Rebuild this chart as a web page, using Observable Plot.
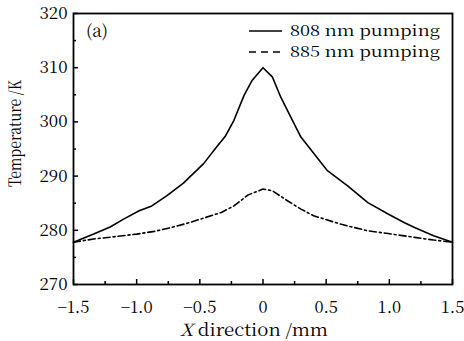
<!DOCTYPE html>
<html><head><meta charset="utf-8">
<script src="https://cdn.jsdelivr.net/npm/d3@7"></script>
<script src="https://cdn.jsdelivr.net/npm/@observablehq/plot@0.6"></script>
<style>body{margin:0;background:#fff} svg{display:block}</style>
</head><body><div id="chart"></div>
<script>
// 808 nm pumping (solid)
const x808 = [-1.5,-1.34,-1.21,-1.1,-0.98,-0.88,-0.76,-0.63,-0.47,-0.38,-0.3,-0.23,-0.15,-0.085,0,0.074,0.14,0.22,0.3,0.51,0.67,0.83,0.99,1.12,1.2,1.35,1.5];
const t808 = [277.8,279.3,280.6,282.1,283.6,284.5,286.4,288.7,292.3,295.0,297.3,300.3,304.9,307.7,310.0,308.3,304.6,300.9,297.2,291.0,288.2,285.1,283.0,281.4,280.5,279.0,277.8];
// 885 nm pumping (dashed)
const x885 = [-1.5,-1.34,-1.18,-1.0,-0.86,-0.73,-0.6,-0.49,-0.33,-0.23,-0.12,0,0.074,0.19,0.3,0.4,0.62,0.83,0.99,1.2,1.35,1.5];
const t885 = [277.8,278.4,278.8,279.3,279.8,280.5,281.3,282.1,283.3,284.5,286.5,287.6,287.3,285.5,283.9,282.7,281.1,279.9,279.4,278.7,278.2,277.8];
const seriesNames = ["808 nm pumping","885 nm pumping"];
const xTicks = [-1.5,-1,-0.5,0,0.5,1,1.5];
const xMinor = [-1.25,-0.75,-0.25,0.25,0.75,1.25];
const yTicks = [270,280,290,300,310,320];
const yMinor = [275,285,295,305,315];
const panelLabel = "(a)";
const yLabel = "Temperature /K";
const xLabelVar = "X", xLabelRest = " direction /mm";

const d808 = x808.map((x,i)=>({x, t:t808[i]}));
const d885 = x885.map((x,i)=>({x, t:t885[i]}));

const W=464,H=341,mL=73,mR=12,mT=13,mB=57;
const iw=W-mL-mR, ih=H-mT-mB;
const fmtX = d => d===0 ? "0" : d.toFixed(1).replace("-","\u2212");
const FONT = "'Noto Serif CJK SC', 'DejaVu Serif', serif";

const svg = Plot.plot({
  width:W,height:H,marginLeft:mL,marginRight:mR,marginTop:mT,marginBottom:mB,
  style:{fontFamily:FONT,fontSize:"17px",color:"#000",background:"#fff",overflow:"visible"},
  x:{domain:[-1.5,1.5]},
  y:{domain:[270,320]},
  marks:[
    Plot.axisX(xTicks,{tickSize:0,tickPadding:17,tickFormat:fmtX,label:null,fontSize:16.5,fontFamily:FONT}),
    Plot.axisY(yTicks,{tickSize:0,tickPadding:6,tickFormat:d=>String(d),label:null,fontSize:17,fontFamily:FONT}),
    Plot.tickX(xTicks,{x:d=>d,insetTop:ih-5,stroke:"#000",strokeWidth:1.5}),
    Plot.tickX(xMinor,{x:d=>d,insetTop:ih-3,stroke:"#000",strokeWidth:1.5}),
    Plot.tickY(yTicks,{y:d=>d,insetRight:iw-5,stroke:"#000",strokeWidth:1.5}),
    Plot.tickY(yMinor,{y:d=>d,insetRight:iw-3,stroke:"#000",strokeWidth:1.5}),
    Plot.line(d808,{x:"x",y:"t",stroke:"#000",strokeWidth:1.6}),
    Plot.line(d885,{x:"x",y:"t",stroke:"#000",strokeWidth:1.6,strokeDasharray:"7,3,2,3"}),
    Plot.frame({stroke:"#000",strokeWidth:1.8})
  ]
});
document.getElementById("chart").appendChild(svg);

const s = d3.select(svg);
const txt = (x,y,size) => s.append("text").attr("x",x).attr("y",y).attr("text-anchor","start")
  .style("font-family",FONT).style("font-size",size+"px").attr("fill","#000");
// panel label
txt(86,37,17).text(panelLabel);
// legend
const legY = [31, 52];
const dashes = [null, "7,5"];
seriesNames.forEach((name,i)=>{
  const ln = s.append("line").attr("x1",249).attr("x2",282).attr("y1",legY[i]).attr("y2",legY[i])
    .attr("stroke","#000").attr("stroke-width",1.6);
  if (dashes[i]) ln.attr("stroke-dasharray",dashes[i]);
  txt(290,legY[i]+5,15).attr("textLength",150).attr("lengthAdjust","spacingAndGlyphs").text(name);
});
// x label
const xl = txt(180,336,17).attr("textLength",148).attr("lengthAdjust","spacingAndGlyphs");
xl.append("tspan").style("font-style","italic").text(xLabelVar);
xl.append("tspan").text(xLabelRest);
// y label
s.append("text").attr("transform","translate(21,133.5) rotate(-90)").attr("text-anchor","middle")
  .style("font-family",FONT).style("font-size","17px").attr("fill","#000")
  .attr("textLength",107).attr("lengthAdjust","spacingAndGlyphs").text(yLabel);
</script></body></html>
